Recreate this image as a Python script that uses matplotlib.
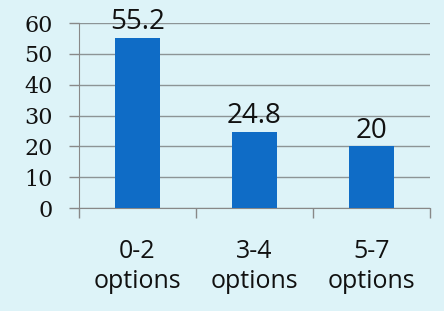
import matplotlib.pyplot as plt
import numpy as np

plt.rcParams['font.family'] = 'serif'
plt.rcParams['font.serif'] = ['DejaVu Serif']

categories = ['0-2\noptions', '3-4\noptions', '5-7\noptions']
values = [55.2, 24.8, 20]
yticks = [0, 10, 20, 30, 40, 50, 60]

bg = '#DDF3F8'
bar_color = '#0F6CC6'

fig = plt.figure(figsize=(4.44, 3.11), dpi=100, facecolor=bg)
ax = fig.add_axes([0.178, 0.331, 0.79, 0.595], facecolor=bg)

x = np.arange(len(categories))
bars = ax.bar(x, values, width=0.39, color=bar_color, zorder=3)

for b, v in zip(bars, values):
    ax.text(b.get_x() + b.get_width() / 2, v + 0.5, f'{v:g}', ha='center', va='bottom',
            fontsize=20, family='Open Sans', color='#111111', zorder=4)

ax.set_xlim(-0.5, len(categories) - 0.5)
ax.set_ylim(0, 60)
ax.set_yticks(yticks)
ax.tick_params(axis='y', length=7, color='#888888', width=1, pad=12,
               labelsize=16, labelcolor='#111111')

ax.set_xticks(x)
ax.set_xticklabels(categories, linespacing=1.3, family='Open Sans', fontsize=18,
                   color='#111111')
ax.tick_params(axis='x', which='major', length=0, pad=22)
ax.set_xticks(np.arange(len(categories) + 1) - 0.5, minor=True)
ax.tick_params(axis='x', which='minor', length=7, color='#888888', width=1)

ax.grid(axis='y', color='#8C9496', linewidth=1, zorder=0)
for s in ['top', 'right']:
    ax.spines[s].set_visible(False)
ax.spines['left'].set_color('#888888')
ax.spines['bottom'].set_color('#888888')

fig.savefig('out.png', facecolor=bg)
